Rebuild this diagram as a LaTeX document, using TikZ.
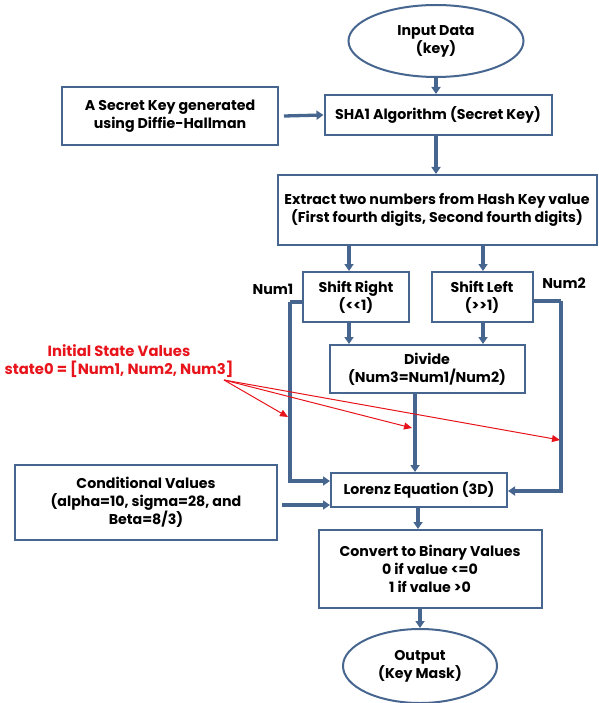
\documentclass[tikz,border=0pt]{standalone}
\usepackage{fontspec}
\setmainfont{Poppins}
\usetikzlibrary{arrows.meta,shapes.geometric}
\definecolor{bl}{HTML}{47668F}
\definecolor{rd}{HTML}{E8141B}
\tikzset{
  txt/.style={font=\fontsize{14.2}{18}\selectfont\bfseries},
  box/.style={draw=bl,line width=2pt,fill=white,align=center,inner sep=2pt,txt},
  oval/.style={ellipse,draw=bl,line width=2pt,fill=white,align=center,inner sep=0pt,txt},
  conn/.style={draw=bl,line width=3.3pt,-{Triangle[length=7pt,width=9pt]}},
  redarr/.style={draw=rd,line width=1pt,-{Triangle[length=8pt,width=7pt]}},
  lbl/.style={txt,inner sep=0pt}
}
\begin{document}
\begin{tikzpicture}[x=1pt,y=-1pt]
\useasboundingbox (0,0) rectangle (598,703);
\node[oval,minimum width=175pt,minimum height=72pt] (inp) at (436,41) {Input Data\\(key)};
\node[box,minimum width=227pt,minimum height=40pt] (sha) at (438,115) {SHA1 Algorithm (Secret Key)};
\node[box,minimum width=216pt,minimum height=58pt] (sec) at (170,116) {A Secret Key generated\\using Diffie-Hallman};
\node[box,minimum width=319pt,minimum height=70pt] (ext) at (437,210) {Extract two numbers from Hash Key value\\(First fourth digits, Second fourth digits)};
\node[box,minimum width=106pt,minimum height=50pt] (sr) at (356,297) {Shift Right\\(<\kern0pt<1)};
\node[box,minimum width=101pt,minimum height=50pt] (sl) at (482,297) {Shift Left\\(>\kern0pt>1)};
\node[box,minimum width=195pt,minimum height=48pt] (dv) at (427,369) {Divide\\(Num3=Num1/Num2)};
\node[box,minimum width=176pt,minimum height=34pt] (lor) at (419,490) {Lorenz Equation (3D)};
\node[box,minimum width=262pt,minimum height=75pt] (cond) at (146,502) {Conditional Values\\(alpha=10, sigma=28, and\\Beta=8/3)};
\node[box,minimum width=223pt,minimum height=78pt] (conv) at (430,569) {Convert to Binary Values\\0 if value <=0\\1 if value >0};
\node[oval,minimum width=154pt,minimum height=74pt] (out) at (420,666) {Output\\(Key Mask)};
\node[lbl] (n1) at (273,289) {Num1};
\node[lbl] (n2) at (564,283) {Num2};
\node[lbl,text=rd,align=center,font=\fontsize{14.8}{18}\selectfont\bfseries] (isv) at (119,361) {Initial State Values\\state0 = [Num1, Num2, Num3]};
% connectors
\draw[conn] (inp.south) -- (inp.south |- sha.north);
\draw[conn] (sec.east) ++(5pt,0) -- (sha.west);
\draw[conn] (sha.south -| inp.south) -- (ext.north -| inp.south);
\coordinate (a1) at (349,0);
\coordinate (a2) at (483,0);
\draw[conn] (ext.south -| a1) -- (sr.north -| a1);
\draw[conn] (ext.south -| a2) -- (sl.north -| a2);
\draw[conn] (sr.south -| a1) -- (dv.north -| a1);
\draw[conn] (sl.south -| a2) -- (dv.north -| a2);
\coordinate (a3) at (415,0);
\draw[conn] (dv.south -| a3) -- (lor.north -| a3);
\coordinate (nl) at (290,302);
\coordinate (nr) at (561,301);
\coordinate (ly1) at (0,481);
\coordinate (ly2) at (0,491);
\coordinate (ly3) at (0,505);
\draw[conn,-] (sr.west |- nl) -- (nl);
\draw[conn] (nl) -- (nl |- ly1) -- (lor.west |- ly1);
\draw[conn,-] (sl.east |- nr) -- (nr);
\draw[conn] (nr) -- (nr |- ly2) -- (lor.east |- ly2);
\draw[conn] (cond.east |- ly3) ++(4pt,0) -- (lor.west |- ly3);
\coordinate (a4) at (418,0);
\draw[conn] (lor.south -| a4) -- (conv.north -| a4);
\coordinate (a5) at (420,0);
\draw[conn] (conv.south -| a5) -- (out.north);
% red arrows
\coordinate (rs) at (224,380);
\draw[redarr] (rs) -- (288,417);
\draw[redarr] (rs) -- (412,428);
\draw[redarr] (rs) -- (560,440);
\end{tikzpicture}
\end{document}
